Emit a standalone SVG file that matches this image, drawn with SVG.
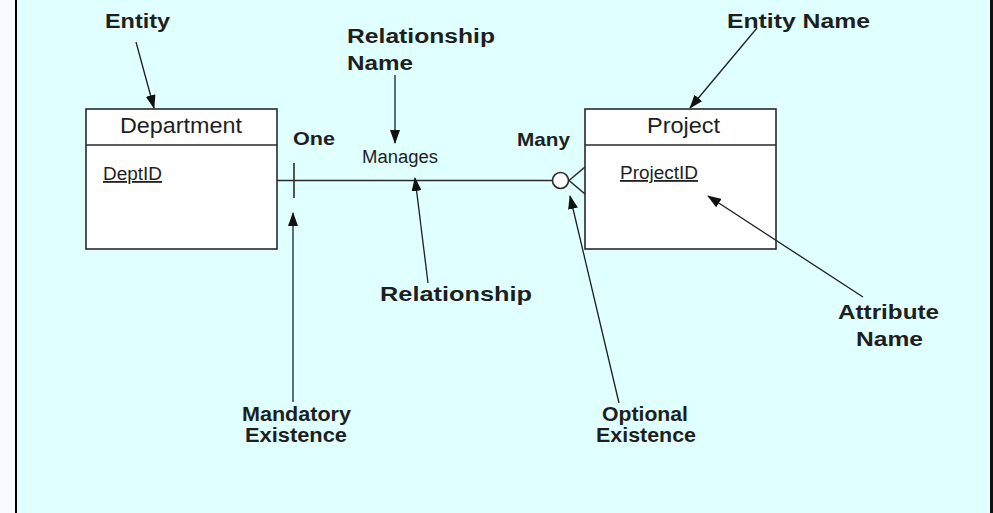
<svg xmlns="http://www.w3.org/2000/svg" width="993" height="513" viewBox="0 0 993 513">
  <style>
    .label { font-family: "Liberation Sans", Arial, sans-serif; font-weight: bold; fill: #1e1e1e; }
    .name { font-family: "Liberation Sans", Arial, sans-serif; font-weight: normal; fill: #1e1e1e; }
    .box { fill: #ffffff; stroke: #2a2a2a; stroke-width: 1.6; }
    .rule { stroke: #2a2a2a; stroke-width: 1.6; fill: none; }
    .pointer { stroke: #1e1e1e; stroke-width: 1.3; fill: none; marker-end: url(#head); }
  </style>
  <defs>
    <marker id="head" viewBox="0 0 14 10" refX="13" refY="5" markerWidth="14" markerHeight="10" markerUnits="userSpaceOnUse" orient="auto">
      <path d="M0,0 L14,5 L0,10 Z" fill="#111"/>
    </marker>
  </defs>

  <!-- page and frame -->
  <rect x="0" y="0" width="993" height="513" fill="#f8fbff"/>
  <rect x="17" y="0" width="973" height="513" fill="#e0ffff"/>
  <rect x="15" y="0" width="2" height="513" fill="#000"/>
  <rect x="990" y="0" width="3" height="513" fill="#111"/>

  <!-- entity: Department -->
  <g id="department">
    <rect class="box" x="86" y="109" width="191" height="140"/>
    <line class="rule" x1="86" y1="145" x2="277" y2="145"/>
    <text class="name" x="120" y="133" font-size="22" textLength="122" lengthAdjust="spacingAndGlyphs">Department</text>
    <text class="name" x="103" y="180" font-size="18" textLength="59" lengthAdjust="spacingAndGlyphs" text-decoration="underline">DeptID</text>
  </g>

  <!-- entity: Project -->
  <g id="project">
    <rect class="box" x="585" y="109" width="191" height="140"/>
    <line class="rule" x1="585" y1="145" x2="776" y2="145"/>
    <text class="name" x="647" y="133" font-size="22" textLength="73" lengthAdjust="spacingAndGlyphs">Project</text>
    <text class="name" x="620" y="179" font-size="18" textLength="78" lengthAdjust="spacingAndGlyphs" text-decoration="underline">ProjectID</text>
  </g>

  <!-- relationship: Manages, one-to-many -->
  <g id="connectors">
    <line class="rule" x1="277" y1="180.5" x2="552" y2="180.5"/>
    <line class="rule" x1="294" y1="163" x2="294" y2="198"/>
    <circle cx="560.5" cy="180.5" r="8" fill="#ffffff" stroke="#2a2a2a" stroke-width="1.6"/>
    <line class="rule" x1="569" y1="180.5" x2="585" y2="167"/>
    <line class="rule" x1="569" y1="180.5" x2="585" y2="194"/>
  </g>
  <g id="relationship-labels">
    <text class="name" x="362" y="163" font-size="18" textLength="76" lengthAdjust="spacingAndGlyphs">Manages</text>
    <text class="label" x="293" y="145" font-size="19" textLength="42" lengthAdjust="spacingAndGlyphs">One</text>
    <text class="label" x="517" y="146" font-size="19" textLength="53" lengthAdjust="spacingAndGlyphs">Many</text>
  </g>

  <!-- callouts -->
  <g id="callout-entity">
    <text class="label" x="105" y="28" font-size="21" textLength="65" lengthAdjust="spacingAndGlyphs">Entity</text>
    <line class="pointer" x1="136" y1="42" x2="154" y2="108"/>
  </g>
  <g id="callout-entity-name">
    <text class="label" x="727" y="28" font-size="21" textLength="143" lengthAdjust="spacingAndGlyphs">Entity Name</text>
    <line class="pointer" x1="757" y1="28" x2="690" y2="108"/>
  </g>
  <g id="callout-relationship-name">
    <text class="label" x="347" y="43" font-size="20" textLength="148" lengthAdjust="spacingAndGlyphs">Relationship</text>
    <text class="label" x="347" y="70" font-size="20" textLength="66" lengthAdjust="spacingAndGlyphs">Name</text>
    <line class="pointer" x1="395" y1="75" x2="395" y2="143"/>
  </g>
  <g id="callout-relationship">
    <text class="label" x="380" y="301" font-size="21" textLength="152" lengthAdjust="spacingAndGlyphs">Relationship</text>
    <line class="pointer" x1="428" y1="283" x2="415" y2="178"/>
  </g>
  <g id="callout-mandatory">
    <text class="label" x="242" y="421" font-size="20" textLength="109" lengthAdjust="spacingAndGlyphs">Mandatory</text>
    <text class="label" x="245" y="442" font-size="20" textLength="102" lengthAdjust="spacingAndGlyphs">Existence</text>
    <line class="pointer" x1="293" y1="402" x2="293" y2="213"/>
  </g>
  <g id="callout-optional">
    <text class="label" x="602" y="421" font-size="20" textLength="86" lengthAdjust="spacingAndGlyphs">Optional</text>
    <text class="label" x="596" y="442" font-size="20" textLength="100" lengthAdjust="spacingAndGlyphs">Existence</text>
    <line class="pointer" x1="619" y1="403" x2="570" y2="196"/>
  </g>
  <g id="callout-attribute-name">
    <text class="label" x="838" y="319" font-size="20" textLength="101" lengthAdjust="spacingAndGlyphs">Attribute</text>
    <text class="label" x="856" y="346" font-size="20" textLength="67" lengthAdjust="spacingAndGlyphs">Name</text>
    <line class="pointer" x1="863" y1="297" x2="708" y2="196"/>
  </g>
</svg>
